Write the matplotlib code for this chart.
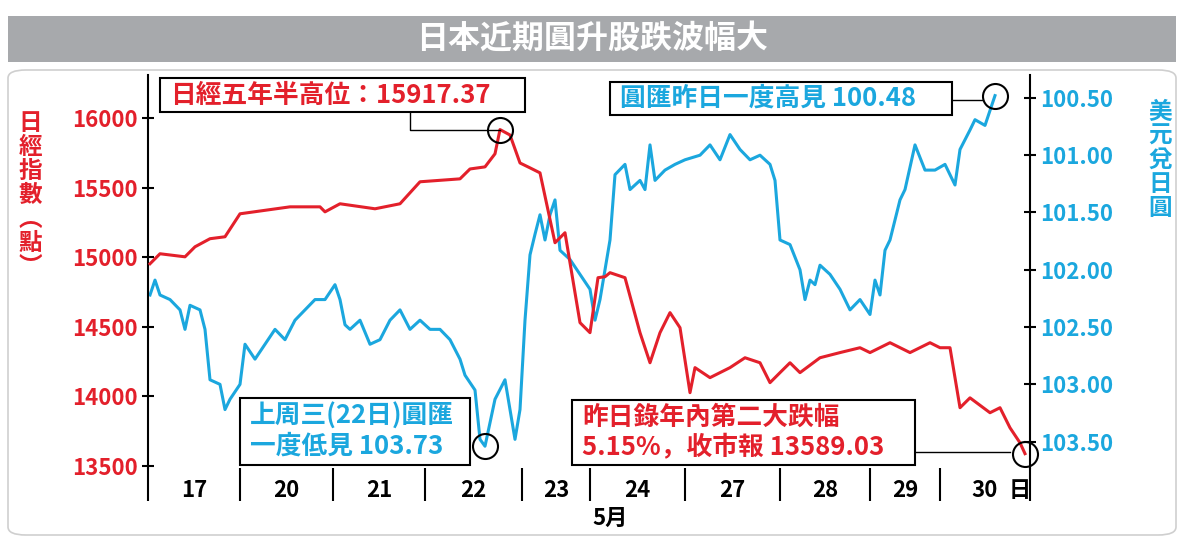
import matplotlib
matplotlib.use("Agg")
import matplotlib.pyplot as plt
from matplotlib.patches import FancyBboxPatch, Rectangle
import numpy as np

plt.rcParams['font.family'] = ['Noto Sans CJK JP', 'Noto Sans CJK TC', 'DejaVu Sans']
RED = '#e3202b'
BLUE = '#1ba7de'

# session time index (0..882 across the 10 trading days)
day_edges = [0, 92, 185, 277, 374, 442, 537, 632, 722, 792, 882]
day_labels = ['17', '20', '21', '22', '23', '24', '27', '28', '29', '30']

nk_t = [2, 12, 37, 47, 62, 77, 92, 142, 172, 177, 192, 227, 252, 272, 312, 322, 337, 347, 352, 362,
        372, 382, 392, 407, 417, 432, 442, 450, 457, 462, 477, 492, 502, 512, 522, 532, 542, 547,
        562, 582, 597, 612, 622, 632, 642, 652, 672, 692, 712, 722, 742, 762, 782, 792, 802, 812,
        822, 842, 852, 862, 872, 877]
nk_v = [14953, 15025, 15003, 15075, 15133, 15147, 15312, 15362, 15362, 15326, 15384, 15348, 15384,
        15542, 15563, 15634, 15649, 15743, 15917, 15878, 15677, 15642, 15606, 15104, 15176, 14530,
        14458, 14853, 14860, 14889, 14853, 14458, 14242, 14458, 14602, 14494, 14027, 14207, 14135,
        14207, 14278, 14242, 14099, 14171, 14242, 14171, 14278, 14315, 14350, 14315, 14386, 14315,
        14386, 14350, 14350, 13919, 13990, 13883, 13919, 13775, 13667, 13589]

fx_t = [2, 7, 12, 22, 32, 37, 42, 52, 57, 62, 72, 77, 82, 92, 97, 107, 117, 127, 137, 147,
        157, 167, 177, 187, 192, 197, 202, 212, 222, 232, 242, 252, 262, 272, 282, 292, 302, 312,
        317, 327, 332, 337, 347, 357, 367, 372, 377, 382, 387, 392, 397, 402, 407, 412, 422, 432,
        442, 447, 452, 462, 467, 477, 482, 492, 497, 502, 507, 517, 527, 537, 552, 562, 572, 582,
        592, 602, 612, 622, 627, 632, 642, 652, 657, 662, 667, 672, 682, 692, 702, 712, 722, 727,
        732, 737, 742, 752, 757, 767, 777, 787, 797, 802, 807, 812, 822, 827, 837, 847]
fx_v = [102.22, 102.09, 102.22, 102.26, 102.35, 102.52, 102.31, 102.35, 102.52, 102.96, 103.00,
        103.22, 103.13, 103.00, 102.65, 102.78, 102.65, 102.52, 102.61, 102.44, 102.35, 102.26,
        102.26, 102.13, 102.26, 102.48, 102.52, 102.44, 102.65, 102.61, 102.44, 102.35, 102.52,
        102.44, 102.52, 102.52, 102.61, 102.78, 102.92, 103.05, 103.48, 103.54, 103.13, 102.96,
        103.48, 103.22, 102.44, 101.87, 101.69, 101.52, 101.74, 101.52, 101.39, 101.83, 101.91,
        102.04, 102.17, 102.44, 102.26, 101.74, 101.17, 101.08, 101.30, 101.22, 101.30, 100.91,
        101.22, 101.13, 101.08, 101.04, 101.00, 100.91, 101.04, 100.82, 100.95, 101.04, 101.00,
        101.08, 101.22, 101.74, 101.78, 102.00, 102.26, 102.09, 102.13, 101.96, 102.04, 102.17,
        102.35, 102.26, 102.39, 102.09, 102.22, 101.83, 101.74, 101.39, 101.30, 100.91, 101.13,
        101.13, 101.08, 101.17, 101.26, 100.95, 100.78, 100.69, 100.74, 100.48]

fig = plt.figure(figsize=(11.84, 5.4), dpi=100)
fig.patches.append(Rectangle((8/1184, 1-62/540), 1168/1184, 46/540, transform=fig.transFigure,
                             facecolor='#a7a9ac', edgecolor='none'))
fig.text(0.5, 1-39/540, '日本近期圓升股跌波幅大', color='white', fontsize=23, fontweight='bold',
         ha='center', va='center')
fig.patches.append(FancyBboxPatch((8/1184, 1-535/540), 1168/1184, 465/540, transform=fig.transFigure,
                                  boxstyle='round,pad=0,rounding_size=0.015', facecolor='none',
                                  edgecolor='#cfcfcf', lw=1.2))

ax = fig.add_axes([148/1184, 1-468/540, 882/1184, 393/540])
ax2 = ax.twinx()
ax.plot(nk_t, nk_v, color=RED, lw=2.2, zorder=3)
ax2.plot(fx_t, fx_v, color=BLUE, lw=2.2)
ax.set_zorder(ax2.get_zorder() + 1)
ax.patch.set_visible(False)

ax.set_xlim(0, 882)
ax.set_ylim(13486, 16309)
ax2.set_ylim(103.73, 100.30)
ax.set_yticks([13500, 14000, 14500, 15000, 15500, 16000])
rt = [100.5, 101, 101.5, 102, 102.5, 103, 103.5]
ax2.set_yticks(rt)
ax2.set_yticklabels(['%.2f' % v for v in rt])
for s in ['top', 'bottom']:
    ax.spines[s].set_visible(False)
    ax2.spines[s].set_visible(False)
ax2.spines['left'].set_visible(False)
ax.spines['right'].set_visible(False)
ax.tick_params(axis='y', colors='black', labelcolor=RED, labelsize=16, length=8, width=1.5, direction='inout')
ax2.tick_params(axis='y', colors='black', labelcolor=BLUE, labelsize=16, length=8, width=1.5, direction='inout')
for lab in ax.get_yticklabels() + ax2.get_yticklabels():
    lab.set_fontweight('bold')
ax.spines['left'].set_linewidth(1.5)
ax2.spines['right'].set_linewidth(1.5)

ax.set_xticks(day_edges)
ax.set_xticklabels([])
ax.tick_params(axis='x', length=24, width=1.5, direction='out', pad=0)
mids = [(day_edges[i] + day_edges[i + 1]) / 2 for i in range(len(day_labels))]
for m, l in zip(mids, day_labels):
    ax.text(m, -0.058, l, transform=ax.get_xaxis_transform(), ha='center', va='center',
            fontsize=16, fontweight='bold')
ax.text(872, -0.058, '日', transform=ax.get_xaxis_transform(), ha='center', va='center', fontsize=16, fontweight='bold')
fig.text(610/1184, 1-518/540, '5月', ha='center', va='center', fontsize=16, fontweight='bold')

fig.text(30/1184, 1-195/540, '日\n經\n指\n數\n︵\n點\n︶', color=RED, fontsize=17, fontweight='bold',
         ha='center', va='center', linespacing=1.0)
fig.text(1160/1184, 1-160/540, '美\n元\n兌\n日\n圓', color=BLUE, fontsize=17, fontweight='bold',
         ha='center', va='center', linespacing=1.0)

def circ(axx, x, y):
    axx.plot([x], [y], 'o', ms=18, mfc='none', mec='black', mew=1.5, zorder=6, clip_on=False)

def box(x0, y0, x1, y1, text, color, fs=18.5):
    fig.patches.append(Rectangle((x0/1184, 1-y1/540), (x1-x0)/1184, (y1-y0)/540, transform=fig.transFigure,
                                 facecolor='white', edgecolor='black', lw=1.5, zorder=10))
    fig.text((x0+10)/1184, 1-(y0+y1)/2/540, text, color=color, fontsize=fs, fontweight='bold',
             ha='left', va='center', zorder=11, linespacing=1.15)

def fline(pts):
    xs = [p[0]/1184 for p in pts]; ys = [1-p[1]/540 for p in pts]
    fig.add_artist(plt.Line2D(xs, ys, color='black', lw=1, transform=fig.transFigure, zorder=9))

i_hi = int(np.argmax(nk_v)); circ(ax, nk_t[i_hi], nk_v[i_hi])
circ(ax, nk_t[-1], nk_v[-1])
j_lo = int(np.argmax(fx_v)); circ(ax2, fx_t[j_lo], fx_v[j_lo])
j_hi = int(np.argmin(fx_v)); circ(ax2, fx_t[j_hi], fx_v[j_hi])

fline([(410, 112), (410, 130), (500, 130)])
fline([(950, 100), (982, 100)])
fline([(915, 452), (1010, 452)])
box(160, 78, 525, 112, '日經五年半高位：15917.37', RED)
box(610, 82, 952, 115, '圓匯昨日一度高見 100.48', BLUE)
box(240, 398, 470, 465, '上周三(22日)圓匯\n一度低見 103.73', BLUE)
box(572, 400, 915, 465, '昨日錄年內第二大跌幅\n5.15%，收市報 13589.03', RED)

fig.savefig('out.png', dpi=100)
